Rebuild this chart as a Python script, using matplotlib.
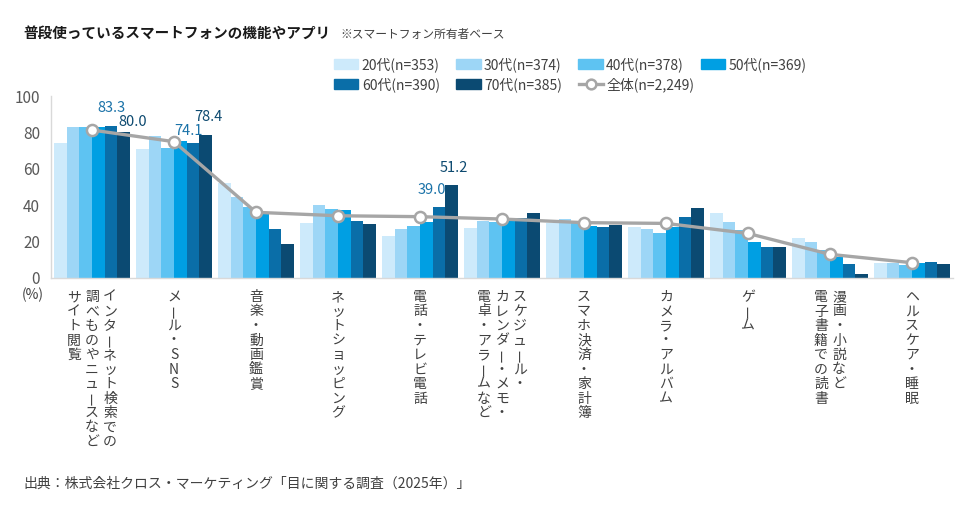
import matplotlib.pyplot as plt
import numpy as np
from matplotlib.lines import Line2D
from matplotlib.patches import Patch

plt.rcParams['font.family'] = ['Noto Sans CJK JP', 'DejaVu Sans']

# 項目（縦書き、改行 = 次の列）
categories = [
    'インターネット検索での\n調べものやニュースなど\nサイト閲覧',
    'メール・SNS',
    '音楽・動画鑑賞',
    'ネットショッピング',
    '電話・テレビ電話',
    'スケジュール・\nカレンダー・メモ・\n電卓・アラームなど',
    'スマホ決済・家計簿',
    'カメラ・アルバム',
    'ゲーム',
    '漫画・小説など\n電子書籍での読書',
    'ヘルスケア・睡眠',
]

age_labels = ['20代(n=353)', '30代(n=374)', '40代(n=378)',
              '50代(n=369)', '60代(n=390)', '70代(n=385)']
total_label = '全体(n=2,249)'

age20 = [74.2, 70.7, 52.4, 30.2, 23.1, 27.3, 30.0, 27.8, 35.5, 21.8, 8.4]
age30 = [83.0, 78.0, 44.7, 39.9, 26.7, 31.5, 32.6, 26.7, 31.0, 19.6, 8.4]
age40 = [83.1, 71.2, 38.8, 37.9, 28.8, 31.0, 30.0, 24.5, 26.5, 15.4, 7.1]
age50 = [83.0, 75.3, 35.2, 37.4, 30.8, 32.8, 28.8, 27.8, 19.6, 11.7, 8.4]
age60 = [83.3, 74.1, 26.7, 31.1, 39.0, 33.0, 27.9, 33.3, 16.9, 7.5, 9.0]
age70 = [80.0, 78.4, 18.5, 29.5, 51.2, 35.5, 28.9, 38.3, 16.9, 2.4, 7.7]
total = [81.3, 74.9, 36.1, 34.2, 33.7, 32.4, 30.4, 30.0, 24.5, 13.0, 8.4]

series = [age20, age30, age40, age50, age60, age70]
colors = ['#cdeafb', '#9dd6f6', '#5ec3f2', '#009fe3', '#0a6ea8', '#0b4a72']

# 数値ラベルを付ける (項目, 系列, dx px, dy px)
highlight = [(0, 4, 0, 18), (0, 5, 9, 10), (1, 4, -4, 12),
             (1, 5, 3, 18), (4, 4, -7, 17), (4, 5, 2, 17)]
label_colors = {4: '#1a72a8', 5: '#0d4a70'}

fig = plt.figure(figsize=(9.6, 5.05), dpi=100)
ax = fig.add_axes([51 / 960, 1 - 278 / 505, 902 / 960, 182 / 505])

x = np.arange(len(categories))
w = 0.154
for k, (vals, c) in enumerate(zip(series, colors)):
    ax.bar(x + (k - 2.5) * w, vals, width=w, color=c, zorder=2)

ax.plot(x, total, color='#a6a6a6', lw=2.4, marker='o', ms=8,
        mfc='white', mec='#a6a6a6', mew=1.8, zorder=3)

for gi, si, dx, dy in highlight:
    v = series[si][gi]
    ax.annotate(f'{v:.1f}', xy=(gi + (si - 2.5) * w, v),
                xytext=(dx, dy), textcoords='offset pixels',
                ha='center', va='center', fontsize=10.5,
                color=label_colors[si], zorder=4)

ax.set_xlim(-0.5, len(categories) - 0.5)
ax.set_ylim(0, 100)
ax.set_yticks(range(0, 101, 20))
ax.set_xticks([])
ax.tick_params(axis='y', length=0, pad=8, labelsize=11, labelcolor='#595959')
for s in ['top', 'right']:
    ax.spines[s].set_visible(False)
for s in ['left', 'bottom']:
    ax.spines[s].set_color('#d9d9d9')
    ax.spines[s].set_linewidth(1)

# 縦書きラベル
pitch_y = 14.5
pitch_x = 18
for i, cat in enumerate(categories):
    cols = cat.split('\n')
    n = len(cols)
    for j, col in enumerate(cols):
        dx = ((n - 1) / 2 - j) * pitch_x
        for k, ch in enumerate(col):
            rot = 90 if ch == 'ー' else 0
            ax.annotate(ch, xy=(i, 0), xycoords=('data', 'axes fraction'),
                        xytext=(dx, -19 - k * pitch_y), textcoords='offset pixels',
                        ha='center', va='center', fontsize=10, rotation=rot,
                        color='#404040', annotation_clip=False)

fig.text(33 / 960, 1 - 295 / 505, '(%)', ha='center', va='center',
         fontsize=10, color='#404040')

# 凡例（2段）
handles = [Patch(color=c) for c in colors]
line_h = Line2D([], [], color='#a6a6a6', lw=2.4, marker='o', ms=7,
                mfc='white', mec='#a6a6a6', mew=1.8)
leg_kw = dict(loc='upper left', frameon=False, fontsize=10,
              handlelength=1.75, handleheight=0.7, handletextpad=0.25,
              columnspacing=1.2, borderpad=0, borderaxespad=0,
              labelcolor='#404040')
fig.legend(handles[:4], age_labels[:4], ncol=4,
           bbox_to_anchor=(334 / 960, 1 - 57 / 505), **leg_kw)
fig.legend(handles[4:] + [line_h], age_labels[4:] + [total_label], ncol=3,
           bbox_to_anchor=(334 / 960, 1 - 77 / 505), **leg_kw)

fig.text(23 / 960, 1 - 33 / 505, '普段使っているスマートフォンの機能やアプリ',
         fontsize=10.5, fontweight='bold', va='center', color='#1a1a1a')
fig.text(340 / 960, 1 - 34 / 505, '※スマートフォン所有者ベース',
         fontsize=8.5, va='center', color='#404040')
fig.text(23 / 960, 1 - 484 / 505,
         '出典：株式会社クロス・マーケティング「目に関する調査（2025年）」',
         fontsize=10, va='center', color='#404040')

fig.savefig('out.png', dpi=100)
